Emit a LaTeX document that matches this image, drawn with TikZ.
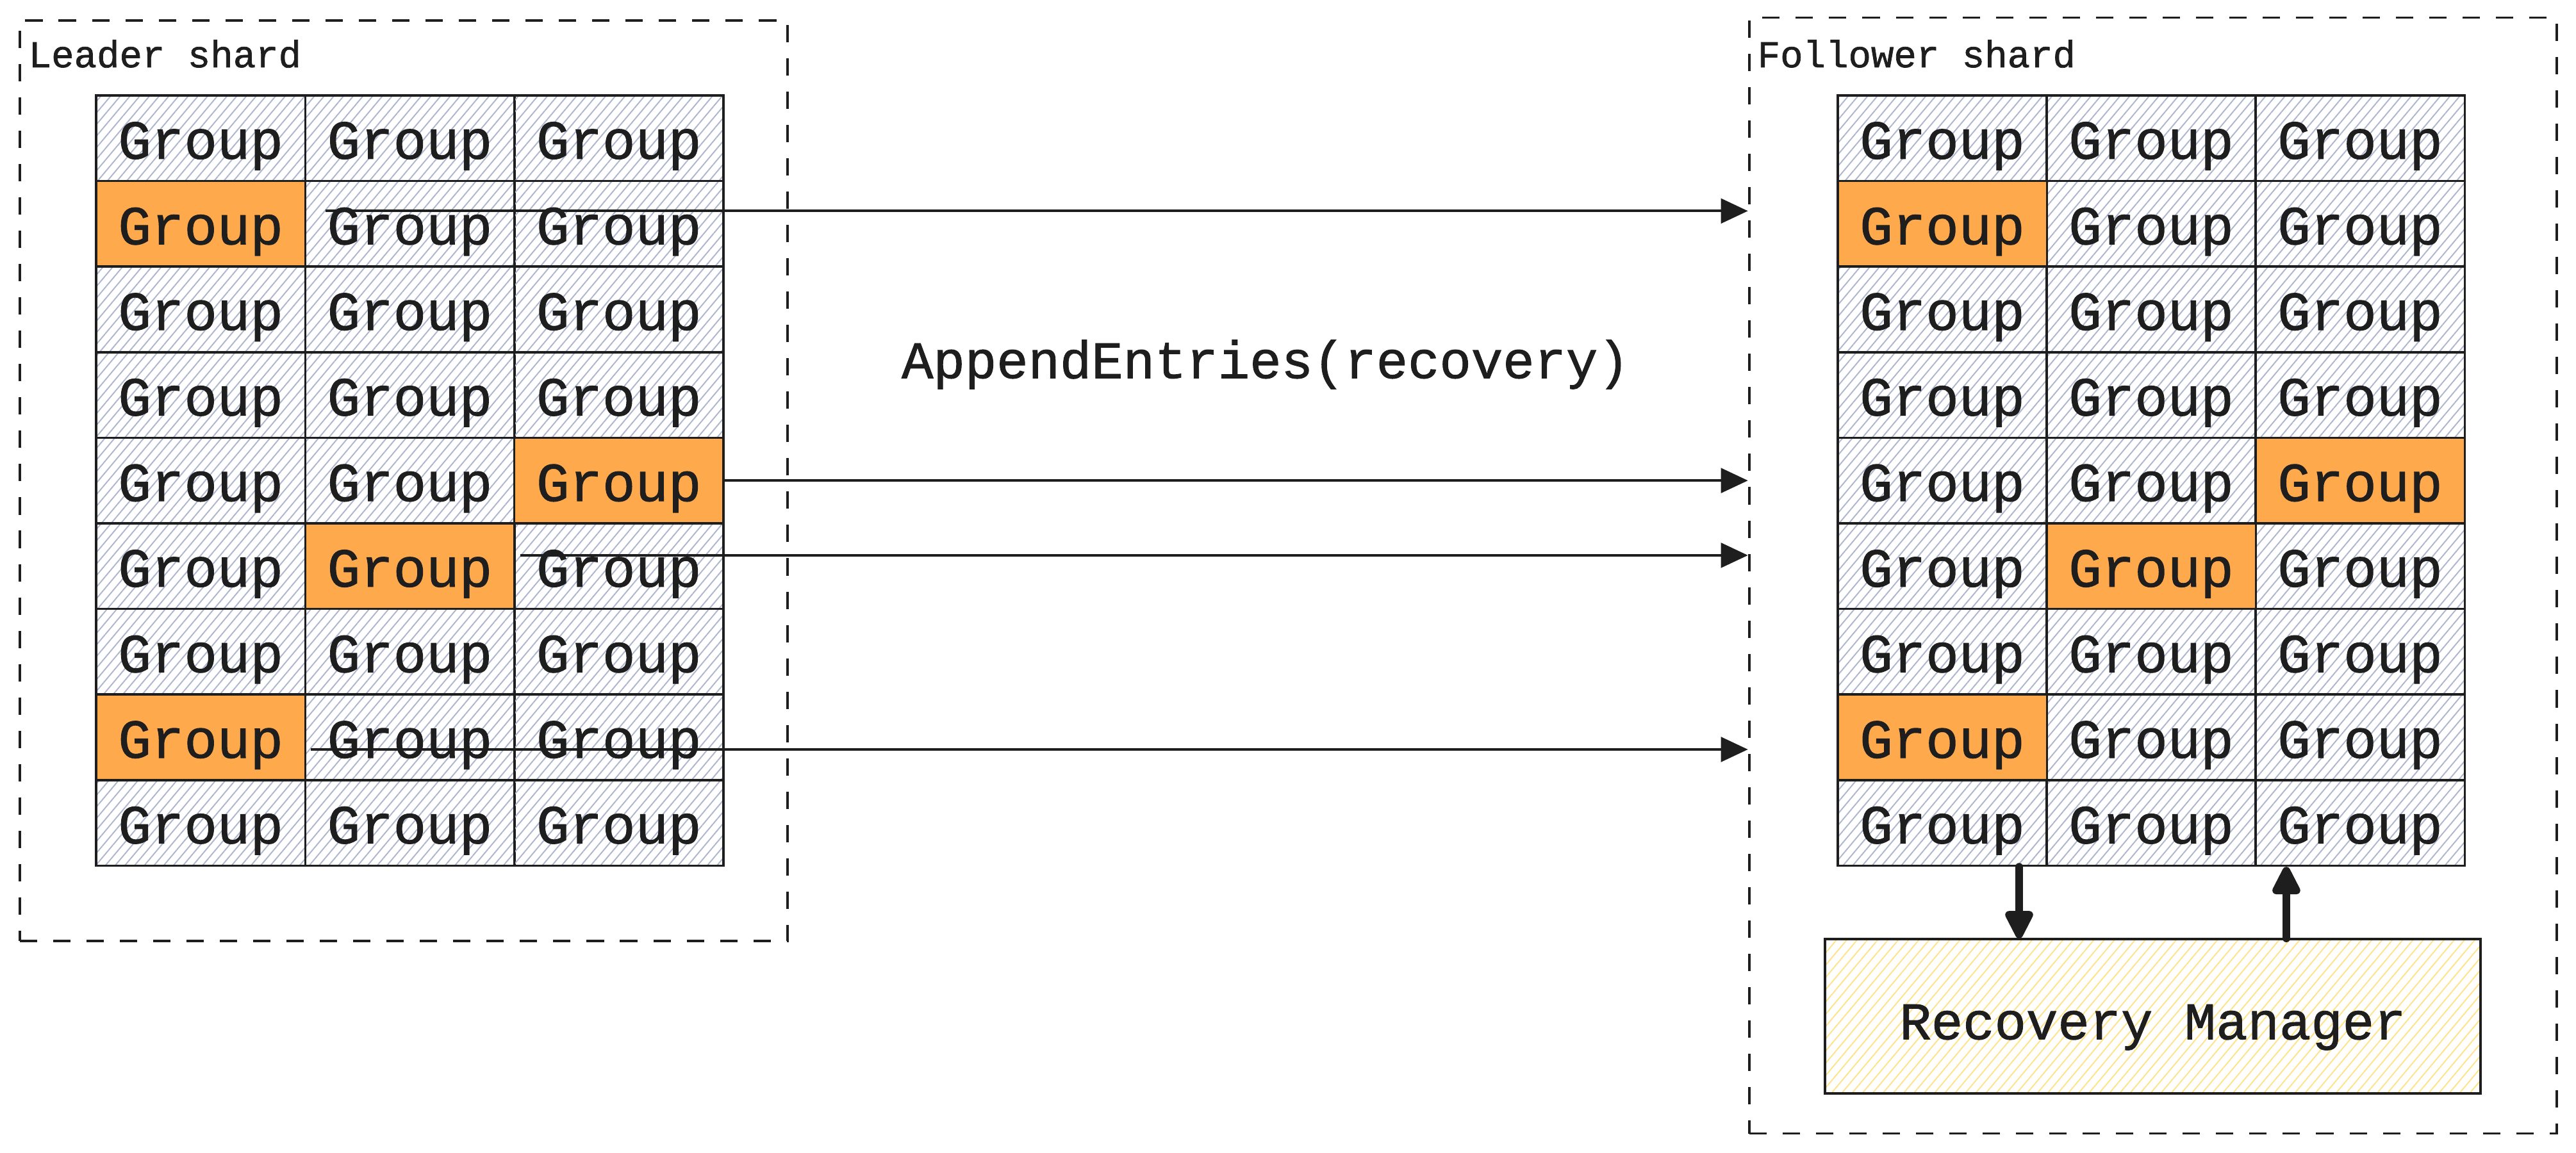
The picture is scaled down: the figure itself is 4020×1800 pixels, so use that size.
\documentclass[tikz,border=0pt]{standalone}
\usepackage{fontspec}
\setmonofont{Liberation Mono}[RawFeature={embolden=1.2}]
\usetikzlibrary{arrows.meta,positioning,patterns.meta}
\definecolor{ink}{HTML}{1E1E1E}
\definecolor{hatchblue}{HTML}{AEB6CE}
\definecolor{hot}{HTML}{FFA94D}
\definecolor{hatchyellow}{HTML}{FFE38A}
\tikzset{cellbase/.style={draw=ink,line width=1pt,minimum width=3.263cm,minimum height=1.336cm,inner sep=0pt,text=ink,font=\ttfamily\fontsize{24.4}{28}\selectfont,text height=23pt,text depth=4.8pt},
cell/.style={cellbase,pattern={Lines[angle=50,distance=3.3pt,line width=0.55pt]},pattern color=hatchblue},
hotcell/.style={cellbase,fill=hot},
shard/.style={draw=ink,dash pattern=on 7.7pt off 7.1pt,line width=1.1pt,inner sep=0pt},
title/.style={text=ink,inner sep=0pt,font=\ttfamily\fontsize{16.8}{20}\selectfont},
manager/.style={draw=ink,line width=1pt,minimum width=10.22cm,minimum height=2.41cm,inner sep=0pt,text=ink,font=\ttfamily\fontsize{23.4}{28}\selectfont,text height=25pt,text depth=4.6pt,pattern={Lines[angle=50,distance=3.5pt,line width=0.55pt]},pattern color=hatchyellow},
msg/.style={-{Triangle[length=12pt,width=11pt]},draw=ink,line width=1.1pt},
ctl/.style={-{Triangle[length=14.5pt,width=13.5pt,round]},draw=ink,line width=3.4pt,line cap=round}}
\begin{document}
\begin{tikzpicture}[x=0.01cm,y=-0.01cm]
\useasboundingbox (0,0) rectangle (4020,1800);
% shard frames
\node[shard,minimum width=11.98cm,minimum height=14.37cm](leader)at(630,750.5){};
\node[shard,minimum width=12.6cm,minimum height=17.41cm](follower)at(3360,898.5){};
\node[title,anchor=base west](leader-title)at(44,105){Leader shard};
\node[title,anchor=base west](follower-title)at(2742,105){Follower shard};
% group grids
\foreach \r in {0,...,8}{
  \foreach \c in {0,1,2}{
    \node[cell](l-\r-\c)at({313.2+326.3*\c},{215.8+133.6*\r}){Group};
    \node[cell](f-\r-\c)at({3031+326*\c},{215.8+133.6*\r}){Group};
  }}
\foreach \r/\c in {1/0,4/2,5/1,7/0}{
  \node[hotcell]at(l-\r-\c){Group};
  \node[hotcell]at(f-\r-\c){Group};}
\node[manager](recovery)at(3359.5,1586.5){Recovery Manager};
\node[text=ink,font=\ttfamily\fontsize{23.4}{28}\selectfont](append)at(1975,569){AppendEntries(recovery)};
% replication
\draw[msg]([xshift=9.4pt,yshift=5.7pt]l-1-1.west)--([yshift=5.7pt]l-1-1.west-|follower.west);
\draw[msg](l-4-2.east)--(l-4-2.east-|follower.west);
\draw[msg]([xshift=3.1pt,yshift=4.8pt]l-5-2.west)--([yshift=4.8pt]l-5-2.west-|follower.west);
\draw[msg]([xshift=3.1pt,yshift=-5.4pt]l-7-1.west)--([yshift=-5.4pt]l-7-1.west-|follower.west);
% recovery loop
\draw[ctl]([xshift=-12.8pt]f-8-0.south east)--([xshift=-12.8pt]f-8-0.south east|-recovery.north);
\draw[ctl]([xshift=14.2pt]f-8-2.south west|-recovery.north)--([xshift=14.2pt]f-8-2.south west);
\end{tikzpicture}
\end{document}
